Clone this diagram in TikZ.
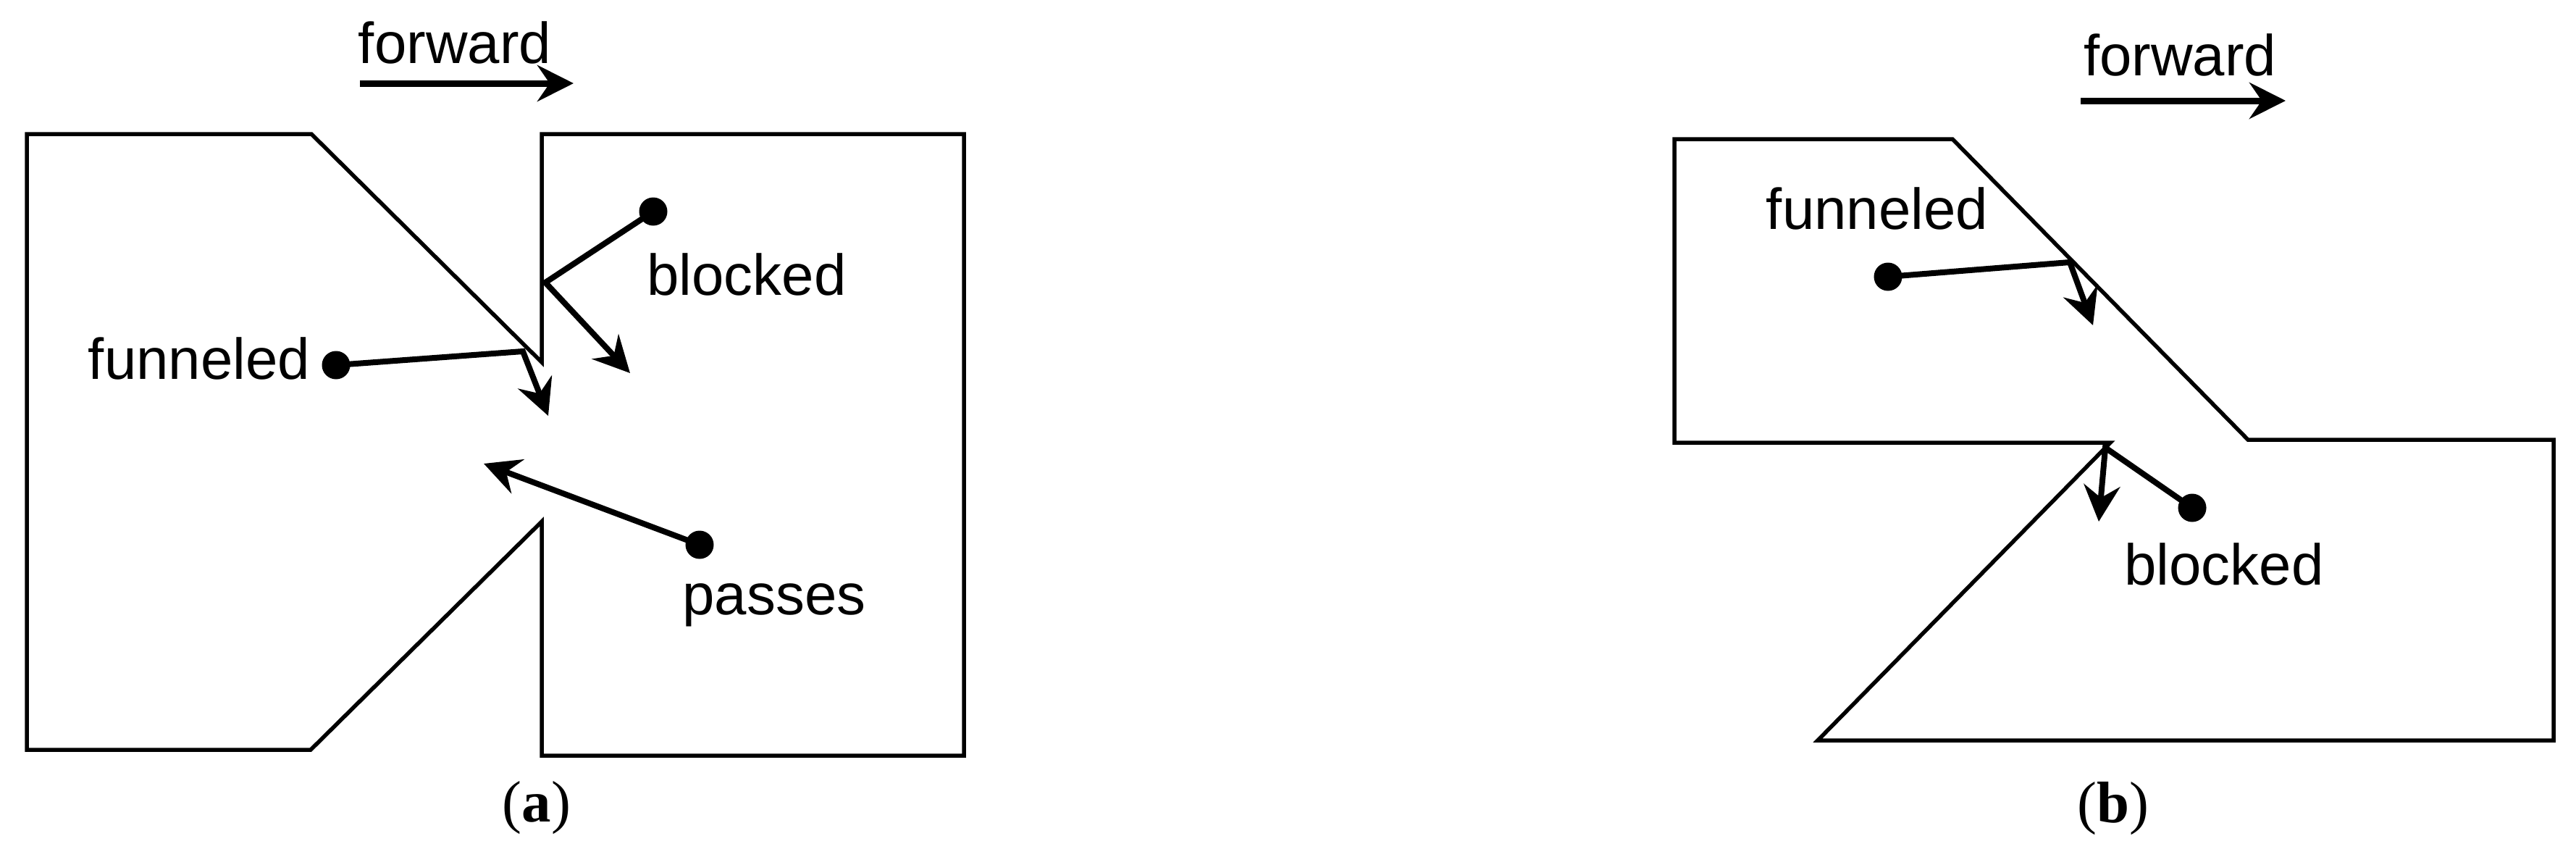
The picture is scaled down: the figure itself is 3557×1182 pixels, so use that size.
\documentclass[tikz,border=0pt]{standalone}
\usepackage{fontspec}
\setmainfont{Liberation Sans}
\newfontfamily\capfont{Liberation Serif}
\usetikzlibrary{arrows.meta}

\begin{document}
\begin{tikzpicture}[x=0.1mm, y=-0.1mm,
    wall/.style={line width=0.55mm, line join=miter},
    agent/.style={circle, fill, inner sep=0pt, minimum size=3.9mm},
    motion/.style={line width=0.8mm, -{Stealth[length=5mm, width=5mm, inset=1.7mm]}},
    tag/.style={anchor=base, inner sep=0pt, font=\fontsize{22.7}{26}\selectfont},
    caption/.style={inner sep=0pt, font=\capfont\fontsize{23}{27}\selectfont}]
    \useasboundingbox (0,0) rectangle (3557,1182);

    % Draw doorway (a)
    \draw[wall] (37,185) -- (430,185) -- (748,500) -- (748,185) -- (1331,185)
        -- (1331,1043) -- (748,1043) -- (748,720) -- (429,1035) -- (37,1035) -- cycle;

    % Forward direction (a)
    \node[tag] (fwdA) at (628,87) {forward};
    \coordinate (fwdA-s) at (497,115);
    \coordinate (fwdA-e) at (792,115);
    \draw[motion, line width=0.9mm] (fwdA-s) -- (fwdA-e);

    % Agents (a)
    \node[agent] (blkA) at (902,292) {};
    \node[tag] (blkA-l) at (1031,407) {blocked};
    \coordinate (blkA-hit) at (753,390);
    \coordinate (blkA-end) at (870,515);
    \draw[motion] (blkA.center) -- (blkA-hit) -- (blkA-end);

    \node[agent] (funA) at (464,504) {};
    \node[tag] (funA-l) at (275,523) {funneled};
    \coordinate (funA-hit) at (722,485);
    \coordinate (funA-end) at (757,574);
    \draw[motion] (funA.center) -- (funA-hit) -- (funA-end);

    \node[agent] (pasA) at (966,752) {};
    \node[tag] (pasA-l) at (1069,848) {passes};
    \coordinate (pasA-end) at (668,640);
    \draw[motion] (pasA.center) -- (pasA-end);

    \node[caption] (capA) at (741,1115) {(\textbf{a})};

    % Draw doorway (b)
    \draw[wall] (2312,192) -- (2696,192) -- (3104,607) -- (3526,607)
        -- (3526,1022) -- (2510,1022) -- (2914,611) -- (2312,611) -- cycle;

    % Forward direction (b)
    \node[tag] (fwdB) at (3010,104) {forward};
    \coordinate (fwdB-s) at (2873,139);
    \coordinate (fwdB-e) at (3156,139);
    \draw[motion, line width=0.9mm] (fwdB-s) -- (fwdB-e);

    % Agents (b)
    \node[agent] (funB) at (2607,382) {};
    \node[tag] (funB-l) at (2592,316) {funneled};
    \coordinate (funB-hit) at (2858,362);
    \coordinate (funB-end) at (2890,449);
    \draw[motion] (funB.center) -- (funB-hit) -- (funB-end);

    \node[agent] (blkB) at (3027,701) {};
    \node[tag] (blkB-l) at (3071,807) {blocked};
    \coordinate (blkB-hit) at (2907,618);
    \coordinate (blkB-end) at (2898,720);
    \draw[motion] (blkB.center) -- (blkB-hit) -- (blkB-end);

    \node[caption] (capB) at (2918,1116) {(\textbf{b})};
\end{tikzpicture}
\end{document}
